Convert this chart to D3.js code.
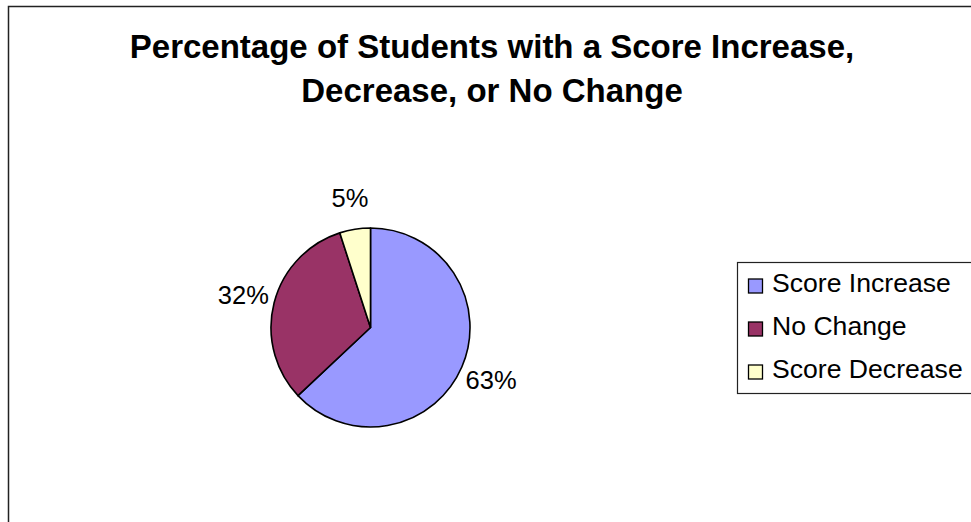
<!DOCTYPE html>
<html>
<head>
<meta charset="utf-8">
<script src="https://cdn.jsdelivr.net/npm/d3@7"></script>
<style>
  html, body { margin: 0; padding: 0; background: #fff; }
  svg { display: block; font-family: "Liberation Sans", Arial, sans-serif; }
</style>
</head>
<body>
<svg id="chart" width="971" height="522"></svg>
<script>
// Chart data
const categories = ["Score Increase", "No Change", "Score Decrease"];
const values = [63, 32, 5];
const colors = ["#9999FF", "#993366", "#FFFFCC"];
const titleLines = ["Percentage of Students with a Score Increase,", "Decrease, or No Change"];

const svg = d3.select("#chart");
const W = 971, H = 522;

svg.append("rect").attr("width", W).attr("height", H).attr("fill", "#fff");

// Chart area frame (runs off the right and bottom edges)
svg.append("rect")
  .attr("x", 8.5).attr("y", 6.5)
  .attr("width", W + 20).attr("height", H + 20)
  .attr("fill", "none").attr("stroke", "#222").attr("stroke-width", 1.5);

// Title
const title = svg.append("text")
  .attr("text-anchor", "middle")
  .attr("font-weight", "bold")
  .attr("font-size", 33)
  .attr("fill", "#000");
titleLines.forEach((t, i) => {
  title.append("tspan").attr("x", 492).attr("y", 58 + i * 44).text(t);
});

// Pie
const cx = 370.5, cy = 327.5, r = 99.5;
const pie = d3.pie().sort(null).value(d => d.value);
const data = categories.map((c, i) => ({ name: c, value: values[i], color: colors[i] }));
const arcs = pie(data);
const arc = d3.arc().innerRadius(0).outerRadius(r);
const labelArc = d3.arc().innerRadius(r * 1.32).outerRadius(r * 1.32);
const total = d3.sum(values);

const g = svg.append("g").attr("transform", `translate(${cx},${cy})`);
g.selectAll("path.slice").data(arcs).join("path")
  .attr("class", "slice")
  .attr("d", arc)
  .attr("fill", d => d.data.color)
  .attr("stroke", "#000")
  .attr("stroke-width", 1.6)
  .attr("stroke-linejoin", "round");

g.selectAll("text.pct").data(arcs).join("text")
  .attr("class", "pct")
  .attr("transform", d => `translate(${labelArc.centroid(d)})`)
  .attr("text-anchor", "middle")
  .attr("dy", "0.36em")
  .attr("font-size", 25.5)
  .attr("fill", "#000")
  .text(d => Math.round(d.data.value / total * 100) + "%");

// Legend
const lg = svg.append("g");
lg.append("rect")
  .attr("x", 737.5).attr("y", 262.5)
  .attr("width", 260).attr("height", 131)
  .attr("fill", "#fff").attr("stroke", "#222").attr("stroke-width", 1.2);

const rows = lg.selectAll("g.row").data(data).join("g")
  .attr("class", "row")
  .attr("transform", (d, i) => `translate(748, ${278.5 + i * 43})`);
rows.append("rect")
  .attr("x", 0.5).attr("y", 0.5)
  .attr("width", 14).attr("height", 14)
  .attr("fill", d => d.color)
  .attr("stroke", "#000").attr("stroke-width", 1.3);
rows.append("text")
  .attr("x", 24).attr("y", 13.5)
  .attr("font-size", 26.6)
  .attr("fill", "#000")
  .text(d => d.name);
</script>
</body>
</html>
